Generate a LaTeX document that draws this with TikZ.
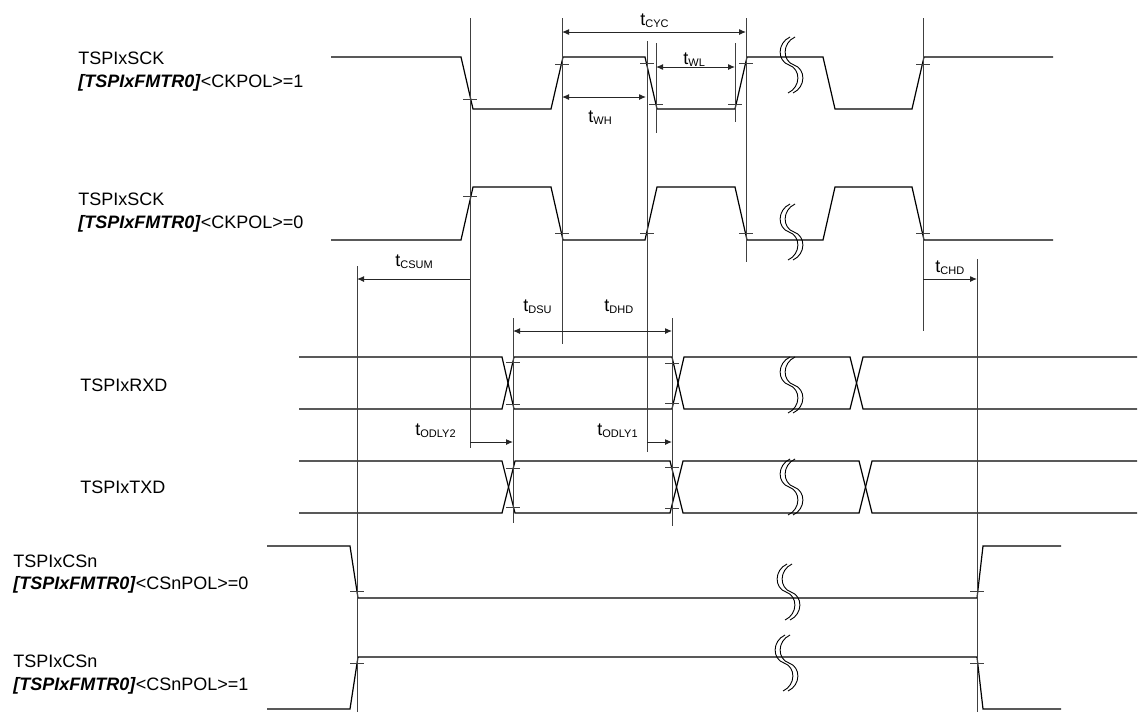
\documentclass[tikz,border=0pt]{standalone}
\usepackage{fontspec}
\setmainfont{Liberation Sans}
\usepackage{tikz}
\usetikzlibrary{arrows.meta, calc}
\newcommand{\tsub}[2]{#1\raisebox{-1.2pt}{\fontsize{5.5}{6}\selectfont #2}}
\newcommand{\fmtr}{\textbf{\textit{[TSPIxFMTR0]}}}

\begin{document}
\begin{tikzpicture}[x=0.5pt, y=-0.5pt,
  font=\fontsize{9}{10}\selectfont,
  sig/.style={line width=0.6pt, black},
  refl/.style={line width=0.5pt, black!75},
  tck/.style={line width=0.5pt, black!75},
  dim/.style={line width=0.5pt, black!85, -{Latex[length=3.5pt, width=3pt]}},
  dimboth/.style={dim, {Latex[length=3.5pt, width=3pt]}-{Latex[length=3.5pt, width=3pt]}},
  lbl/.style={anchor=base west, inner sep=0pt},
  brk/.pic={
    \draw[line width=0.45pt] (0,-28) .. controls (-13,-22) and (-13,-4) .. (-1,0) .. controls (11,4) and (11,22) .. (-2,28);
    \draw[line width=0.45pt] (5,-28) .. controls (-8,-22) and (-8,-4) .. (4,0) .. controls (16,4) and (16,22) .. (3,28);
  }
]
  \useasboundingbox (0,0) rectangle (1139,713);
  % signal names
  \node[lbl] (sck1a) at (78,64) {TSPIxSCK};
  \node[lbl] (sck1b) at (78,87) {\fmtr<CKPOL>=1};
  \node[lbl] (sck0a) at (78,205) {TSPIxSCK};
  \node[lbl] (sck0b) at (78,228) {\fmtr<CKPOL>=0};
  \node[lbl] (rxd) at (80,391) {TSPIxRXD};
  \node[lbl] (txd) at (80,493) {TSPIxTXD};
  \node[lbl] (cs0a) at (13,567) {TSPIxCSn};
  \node[lbl] (cs0b) at (13,589) {\fmtr<CSnPOL>=0};
  \node[lbl] (cs1a) at (13,667) {TSPIxCSn};
  \node[lbl] (cs1b) at (13,690) {\fmtr<CSnPOL>=1};

  % waveforms
  \draw[sig] (331,57)--(461,57)--(473,109)--(551,109)--(563,57)--(645,57)--(657,109)--(735,109)--(747,57)--(823,57)--(835,109)--(912,109)--(924,57)--(1053,57);
  \draw[sig] (331,240)--(461,240)--(473,187)--(551,187)--(563,240)--(645,240)--(657,187)--(735,187)--(747,240)--(823,240)--(835,187)--(912,187)--(924,240)--(1053,240);
  \draw[sig] (299,357)--(502,357)--(514,409)--(672,409)--(684,357)--(850,357)--(863,409)--(1137,409);
  \draw[sig] (299,409)--(502,409)--(514,357)--(672,357)--(684,409)--(850,409)--(863,357)--(1137,357);
  \draw[sig] (299,461)--(502,461)--(515,513)--(670,513)--(683,461)--(859,461)--(872,513)--(1137,513);
  \draw[sig] (299,513)--(502,513)--(515,461)--(670,461)--(683,513)--(859,513)--(872,461)--(1137,461);
  \draw[sig] (267,546)--(350,546)--(358,598)--(977,598)--(983,546)--(1061,546);
  \draw[sig] (267,709)--(350,709)--(358,657)--(977,657)--(983,709)--(1061,709);

  % reference lines
  \draw[refl] (470,18)--(470,448); \draw[refl] (562,18)--(562,344);
  \draw[refl] (647,41)--(647,452); \draw[refl] (656,43)--(656,133);
  \draw[refl] (735,43)--(735,122); \draw[refl] (746,18)--(746,262);
  \draw[refl] (923,18)--(923,331); \draw[refl] (977,259)--(977,712);
  \draw[refl] (513,318)--(513,523); \draw[refl] (672,318)--(672,526);
  \draw[refl] (357,266)--(357,712);
  \foreach \x/\y in {470/99, 562/64, 647/63, 656/104, 735/104, 746/63, 923/64,
                     470/196, 562/233, 647/233, 746/233, 923/233,
                     513/362, 513/404, 672/363, 672/403, 513/468, 513/507, 672/467, 672/508,
                     357/591, 977/591, 357/663, 977/663}
    \draw[tck] (\x-7,\y)--(\x+7,\y);

  % breaks
  \foreach \y in {65, 232, 385, 487} \pic at (790,\y) {brk};
  \pic at (787,592) {brk};
  \pic at (785,663) {brk};

  % timings
  \coordinate (cycA) at (562,32); \coordinate (cycB) at (746,32);
  \coordinate (wlA) at (656,67); \coordinate (wlB) at (735,67);
  \coordinate (whA) at (562,97); \coordinate (whB) at (646,97);
  \coordinate (csumA) at (470,279); \coordinate (csumB) at (357,279);
  \coordinate (chdA) at (923,279); \coordinate (chdB) at (977,279);
  \coordinate (dsuA) at (513,331); \coordinate (dhdB) at (672,331);
  \coordinate (od2A) at (470,442); \coordinate (od2B) at (513,442);
  \coordinate (od1A) at (647,442); \coordinate (od1B) at (672,442);
  \draw[dimboth] (cycA)--(cycB); \draw[dimboth] (wlA)--(wlB); \draw[dimboth] (whA)--(whB);
  \draw[dim] (csumA)--(csumB); \draw[dim] (chdA)--(chdB);
  \draw[dimboth] (dsuA)--(dhdB);
  \draw[dim] (od2A)--(od2B); \draw[dim] (od1A)--(od1B);
  \node[lbl] (tcyc) at (640,25) {\tsub{t}{CYC}};
  \node[lbl] (twl) at (683,64) {\tsub{t}{WL}};
  \node[lbl] (twh) at (588,122) {\tsub{t}{WH}};
  \node[lbl] (tcsum) at (395,266) {\tsub{t}{CSUM}};
  \node[lbl] (tchd) at (935,272) {\tsub{t}{CHD}};
  \node[lbl] (tdsu) at (523,311) {\tsub{t}{DSU}};
  \node[lbl] (tdhd) at (604,311) {\tsub{t}{DHD}};
  \node[lbl] (todly2) at (415,435) {\tsub{t}{ODLY2}};
  \node[lbl] (todly1) at (597,435) {\tsub{t}{ODLY1}};
\end{tikzpicture}
\end{document}
